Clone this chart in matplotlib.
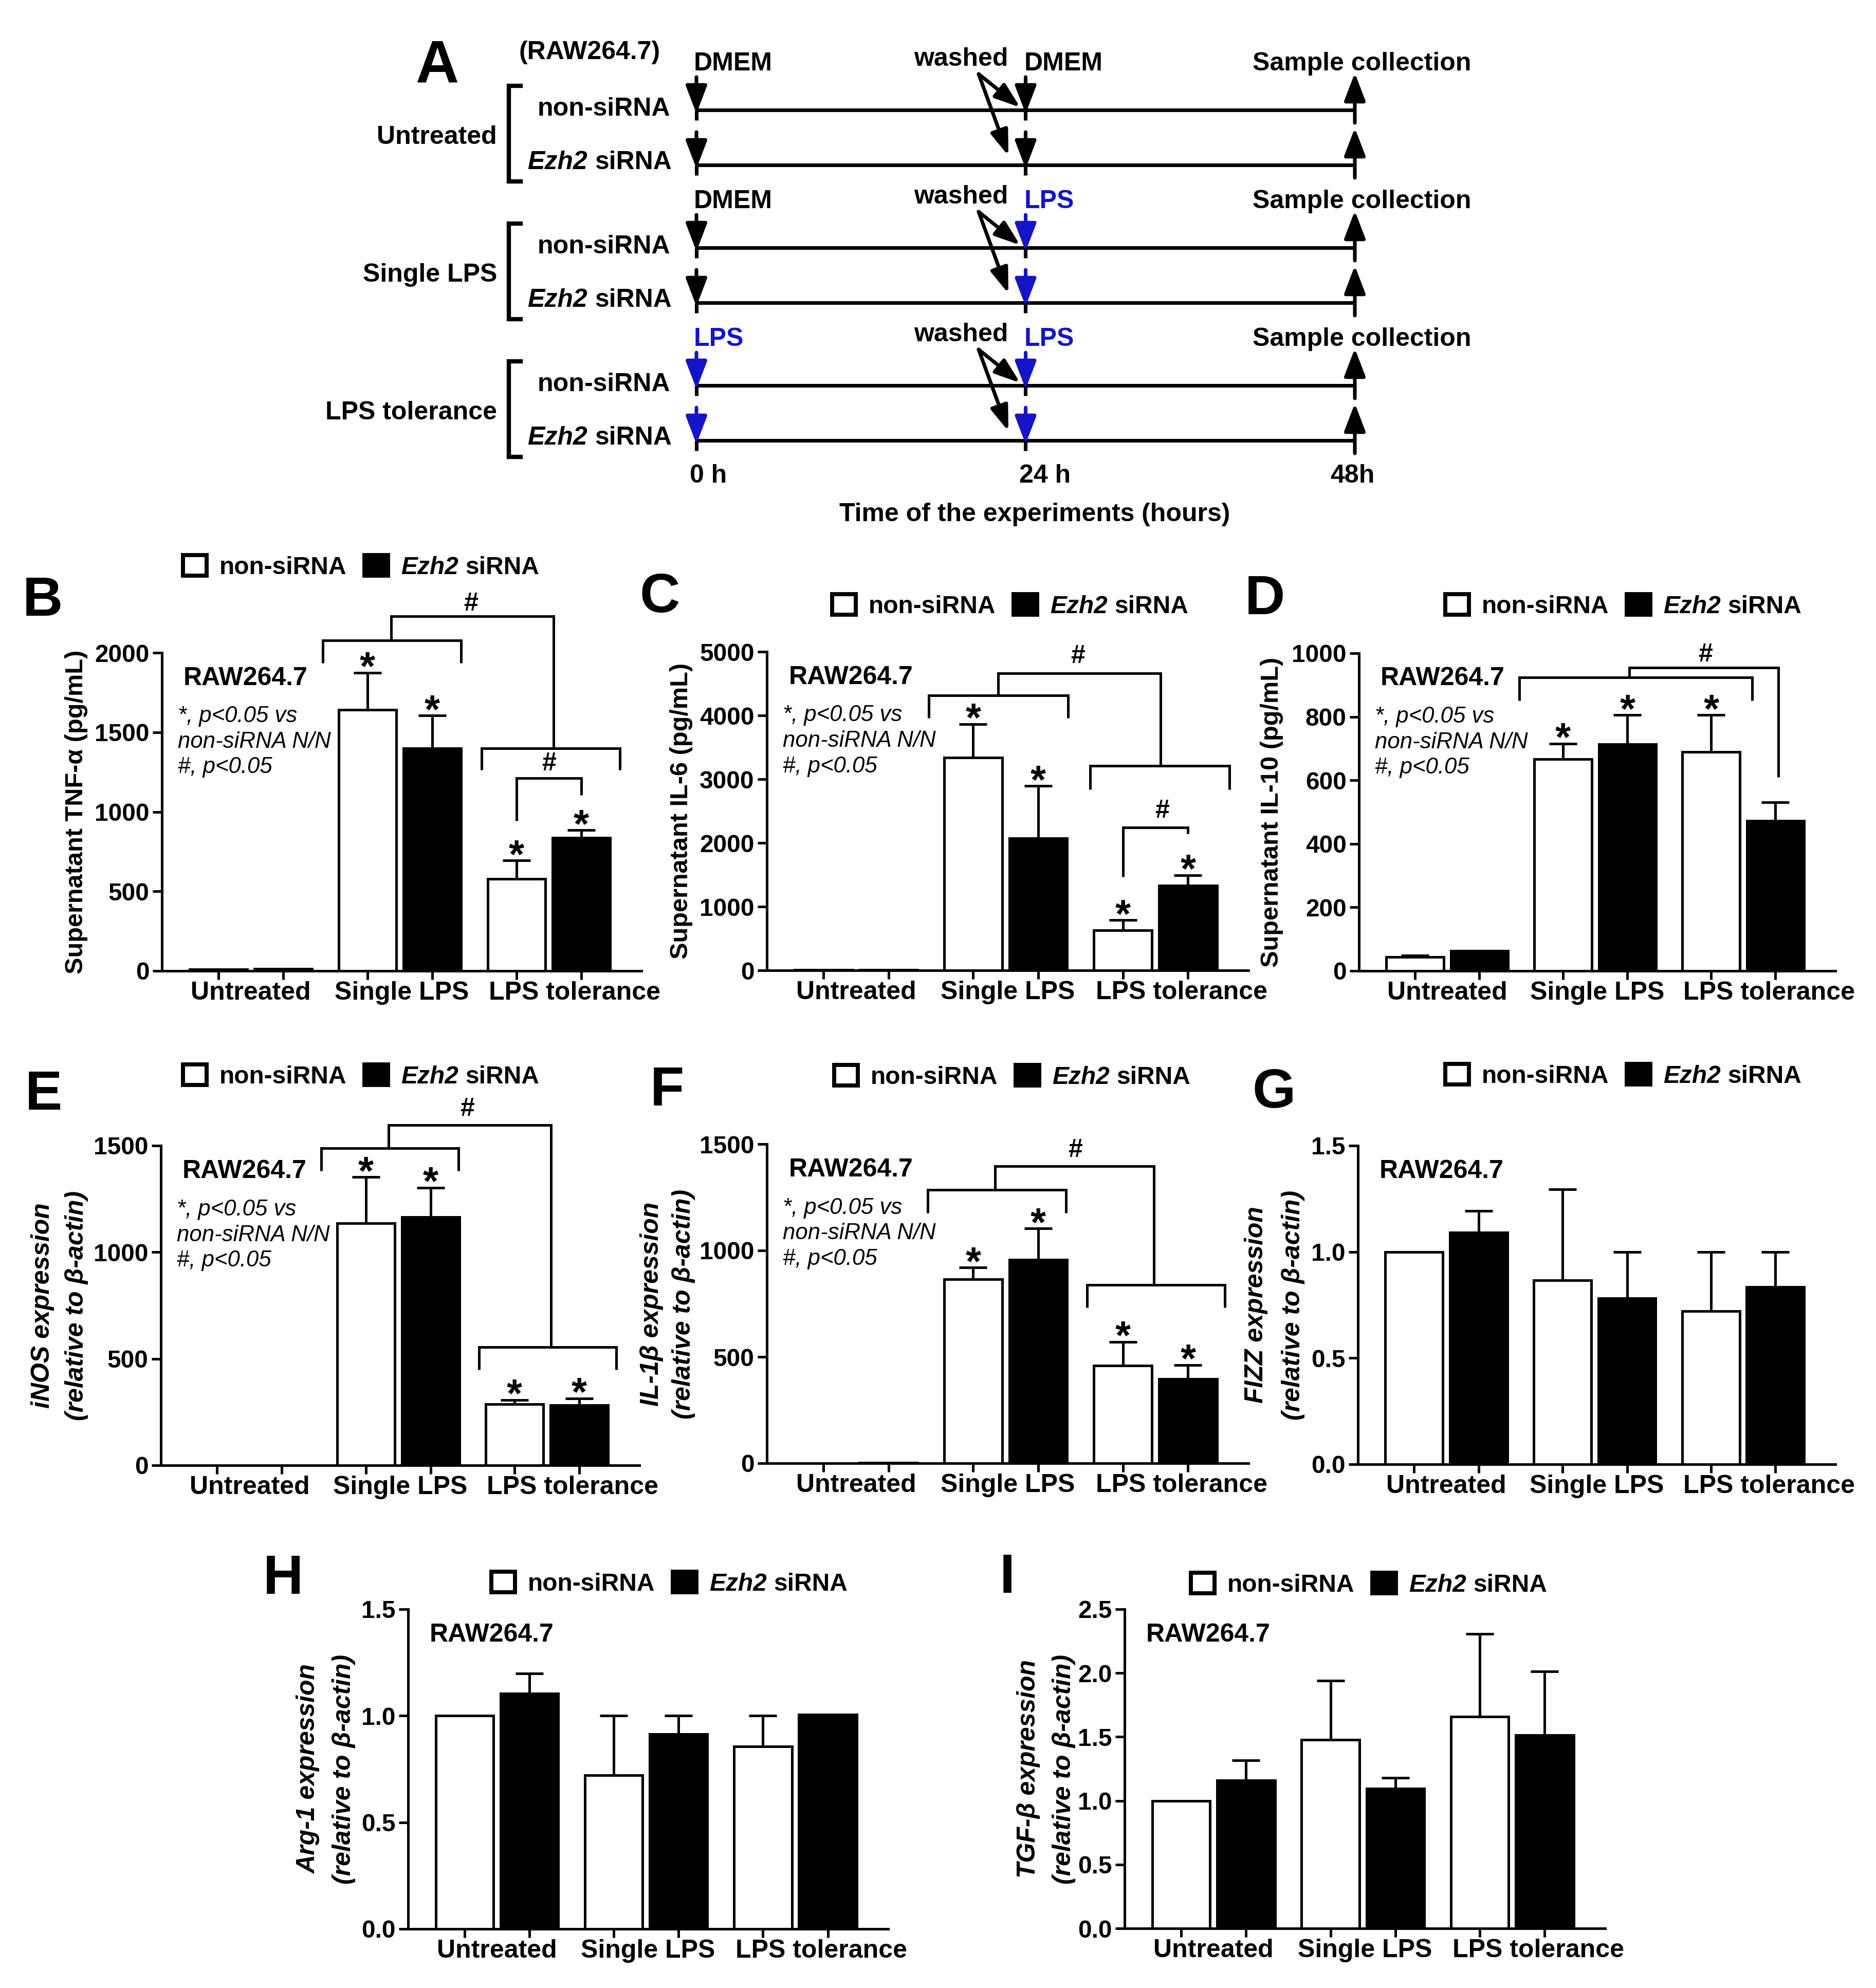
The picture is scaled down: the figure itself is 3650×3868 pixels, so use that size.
import matplotlib
matplotlib.use('Agg')
import matplotlib.pyplot as plt
from matplotlib.patches import Rectangle
import numpy as np

W, H = 3650, 3868
plt.rcParams['font.family'] = ['Liberation Sans', 'DejaVu Sans']
plt.rcParams['font.weight'] = 'bold'
plt.rcParams['axes.linewidth'] = 1.2

BLUE = '#1414c8'

groups = ['Untreated', 'Single LPS', 'LPS tolerance']
series = ['non-siRNA', 'Ezh2 siRNA']

# panel B - TNF-a
B_non = [10, 1640, 578]
B_non_err = [0, 235, 117]
B_ezh = [12, 1400, 838]
B_ezh_err = [0, 205, 47]
# panel C - IL-6
C_non = [8, 3336, 629]
C_non_err = [0, 528, 161]
C_ezh = [10, 2073, 1331]
C_ezh_err = [0, 819, 163]
# panel D - IL-10
D_non = [43, 666, 689]
D_non_err = [6, 50, 117]
D_ezh = [63, 713, 473]
D_ezh_err = [0, 93, 58]
# panel E - iNOS
E_non = [1, 1135, 288]
E_non_err = [0, 217, 19]
E_ezh = [1, 1165, 282]
E_ezh_err = [0, 138, 32]
# panel F - IL-1b
F_non = [1, 864, 459]
F_non_err = [0, 56, 112]
F_ezh = [3, 957, 397]
F_ezh_err = [0, 146, 65]
# panel G - FIZZ
G_non = [1.0, 0.865, 0.721]
G_non_err = [0, 0.43, 0.279]
G_ezh = [1.09, 0.782, 0.835]
G_ezh_err = [0.103, 0.218, 0.165]
# panel H - Arg-1
H_non = [1.0, 0.721, 0.857]
H_non_err = [0, 0.279, 0.143]
H_ezh = [1.104, 0.915, 1.006]
H_ezh_err = [0.094, 0.085, 0]
# panel I - TGF-b
I_non = [1.0, 1.479, 1.657]
I_non_err = [0, 0.463, 0.651]
I_ezh = [1.16, 1.093, 1.512]
I_ezh_err = [0.156, 0.085, 0.501]

note = ['*, p<0.05 vs', 'non-siRNA N/N', '#, p<0.05']

# panel A schematic
hours = [0, 24, 48]
first_add = ['DMEM', 'DMEM', 'LPS']
second_add = ['DMEM', 'LPS', 'LPS']

fig = plt.figure(figsize=(W / 300, H / 300), dpi=300)
ov = fig.add_axes([0, 0, 1, 1])
ov.set_xlim(0, W)
ov.set_ylim(H, 0)
ov.axis('off')
ov.set_zorder(10)
rend = fig.canvas.get_renderer()


def px(size):
    return size * 300 / 72


def T(x, y, s, size=12, **kw):
    # y is the visual centre of capital letters
    return ov.text(x, y + 0.36 * px(size), s, fontsize=size, va='baseline', **kw)


def mixed(x, y, parts, size=12, ha='left', color='k'):
    ws = []
    for s, st in parts:
        t = ov.text(0, 0, s, fontsize=size, style=st)
        ws.append(t.get_window_extent(rend).width)
        t.remove()
    gap = 0.28 * px(size)
    total = sum(ws) + gap * (len(parts) - 1)
    cx = x if ha == 'left' else x - total
    for (s, st), w in zip(parts, ws):
        T(cx, y, s, size, style=st, ha='left', color=color)
        cx += w + gap


def legend(x0, yc):
    ov.add_patch(Rectangle((x0 + 4, yc - 20), 46, 40, fc='white', ec='k', lw=1.9))
    T(x0 + 75, yc, series[0], 11.5, ha='left')
    ov.add_patch(Rectangle((x0 + 357, yc - 20), 46, 40, fc='k', ec='k', lw=1.9))
    mixed(x0 + 428, yc, [('Ezh2', 'italic'), ('siRNA', 'normal')], 11.5)


xs = np.array([0, 1, 2.3, 3.3, 4.6, 5.6])


def panel(box, non, non_err, ezh, ezh_err, ymax, ystep, stars=(), brackets=(),
          hashes=(), with_note=False):
    l, r, t, b = box
    ax = fig.add_axes([l / W, 1 - b / H, (r - l) / W, (b - t) / H])
    ax.set_facecolor('none')
    vals = np.array([non[0], ezh[0], non[1], ezh[1], non[2], ezh[2]], float)
    errs = np.array([non_err[0], ezh_err[0], non_err[1], ezh_err[1],
                     non_err[2], ezh_err[2]], float)
    ax.bar(xs, vals, width=0.89, color=['white', 'black'] * 3, edgecolor='k',
           linewidth=1.2, zorder=3)
    m = errs > 0
    eb = ax.errorbar(xs[m], vals[m], yerr=[np.zeros(m.sum()), errs[m]], fmt='none',
                     ecolor='k', elinewidth=1.2, capsize=6.5, capthick=1.2, zorder=2)
    for a in list(eb.lines[1]) + list(eb.lines[2]):
        a.set_clip_on(False)
    ax.set_xlim(-0.87, 6.53)
    ax.set_ylim(0, ymax)
    ax.set_yticks(np.arange(0, ymax + ystep / 2, ystep))
    ax.set_xticks(xs)
    ax.set_xticklabels([])
    ax.set_xticks([0.5, 2.83, 5.5], groups, minor=True)
    ax.tick_params(axis='y', length=4.3, width=1.2, pad=1.5, labelsize=11.5)
    ax.tick_params(axis='x', which='major', length=4, width=1.2)
    ax.tick_params(axis='x', which='minor', length=0, pad=4.8, labelsize=12)
    ax.spines[['top', 'right']].set_visible(False)
    ax.text(0.045, 0.92, 'RAW264.7', transform=ax.transAxes, fontsize=12, va='center')
    if with_note:
        for k, line in enumerate(note):
            ax.text(0.033, 0.80 - 0.08 * k, line, transform=ax.transAxes, fontsize=10.5,
                    style='italic', fontweight='normal', va='center')
    for i in stars:
        ax.annotate('*', (xs[i], vals[i] + errs[i]), xytext=(0, -3.5),
                    textcoords='offset points', ha='center', va='baseline',
                    fontsize=18.5, annotation_clip=False)
    for x1, x2, y, yl, yr in brackets:
        ax.plot([x1, x1, x2, x2], [yl, y, y, yr], color='k', lw=1.2, clip_on=False,
                solid_joinstyle='miter', solid_capstyle='butt')
    for x, y in hashes:
        ax.annotate('#', (x, y), xytext=(0, -4.2), textcoords='offset points',
                    ha='center', va='baseline', fontsize=12, annotation_clip=False)
    return ax


# ---- row 1
panel((315, 1248, 1270, 1889), B_non, B_non_err, B_ezh, B_ezh_err, 2000, 500,
      stars=[2, 3, 4, 5],
      brackets=[(1.61, 3.75, 2078, 1935, 1935), (2.67, 5.17, 2230, 2078, 1400),
                (4.06, 6.2, 1400, 1263, 1263), (4.6, 5.6, 1212, 943, 1105)],
      hashes=[(3.9, 2323), (5.1, 1318)], with_note=True)
panel((1492, 2429, 1268, 1888), C_non, C_non_err, C_ezh, C_ezh_err, 5000, 1000,
      stars=[2, 3, 4, 5],
      brackets=[(1.62, 3.76, 4318, 3957, 3957), (2.68, 5.18, 4665, 4318, 3206),
                (4.10, 6.24, 3206, 2836, 2836), (4.6, 5.6, 2243, 1471, 2142)],
      hashes=[(3.91, 4966), (5.2, 2535)], with_note=True)
panel((2644, 3571, 1271, 1889), D_non, D_non_err, D_ezh, D_ezh_err, 1000, 200,
      stars=[2, 3, 4],
      brackets=[(1.62, 5.24, 924, 851, 851), (3.33, 5.64, 954, 924, 610)],
      hashes=[(4.51, 1003)], with_note=True)
# ---- row 2
panel((313, 1244, 2229, 2851), E_non, E_non_err, E_ezh, E_ezh_err, 1500, 500,
      stars=[2, 3, 4, 5],
      brackets=[(1.61, 3.73, 1487, 1381, 1381), (2.65, 5.16, 1596, 1487, 555),
                (4.05, 6.17, 555, 449, 449)],
      hashes=[(3.87, 1681)], with_note=True)
panel((1492, 2429, 2226, 2847), F_non, F_non_err, F_ezh, F_ezh_err, 1500, 500,
      stars=[2, 3, 4, 5],
      brackets=[(1.60, 3.73, 1285, 1176, 1176), (2.64, 5.08, 1395, 1285, 839),
                (4.05, 6.17, 839, 732, 732)],
      hashes=[(3.87, 1483)], with_note=True)
panel((2642, 3571, 2229, 2849), G_non, G_non_err, G_ezh, G_ezh_err, 1.5, 0.5)
# ---- row 3
panel((794, 1728, 3131, 3753), H_non, H_non_err, H_ezh, H_ezh_err, 1.5, 0.5)
panel((2188, 3123, 3131, 3752), I_non, I_non_err, I_ezh, I_ezh_err, 2.5, 0.5)

# y labels
ylab = dict(fontsize=11.7, rotation=90, ha='center', va='center')
ov.text(149, 1580, 'Supernatant TNF-α (pg/mL)', **ylab)
ov.text(1326, 1578, 'Supernatant IL-6 (pg/mL)', **ylab)
ov.text(2475, 1580, 'Supernatant IL-10 (pg/mL)', **ylab)
ylab2 = dict(fontsize=12, rotation=90, ha='center', va='center', style='italic')
for x1, x2, yc, name in [(83, 149, 2540, 'iNOS expression'),
                         (1268, 1330, 2537, 'IL-1β expression'),
                         (2444, 2516, 2539, 'FIZZ expression'),
                         (600, 669, 3442, 'Arg-1 expression'),
                         (2001, 2070, 3442, 'TGF-β expression')]:
    ov.text(x1, yc, name, **ylab2)
    ov.text(x2, yc, '(relative to β-actin)', **ylab2)

# legends
for x0, yc in [(352, 1100), (1615, 1176), (2808, 1176), (352, 2091), (1619, 2092),
               (2808, 2090), (952, 3078), (2313, 3080)]:
    legend(x0, yc)

# panel letters
for s, x, y in [('B', 83, 1159), ('C', 1284, 1152), ('D', 2461, 1156), ('E', 85, 2120),
                ('F', 1298, 2112), ('G', 2479, 2116), ('H', 551, 3062), ('I', 1960, 3060)]:
    T(x, y, s, 26, ha='center')
T(850, 119, 'A', 28, ha='center')


# ---- panel A schematic
def tx(h):
    return 1355 + h * (2636 - 1355) / 48


def arrow(x0, y0, x1, y1, c, hl=1.1, hw=0.42):
    ov.annotate('', xy=(x1, y1), xytext=(x0, y0),
                arrowprops=dict(arrowstyle='-|>,head_length=%g,head_width=%g' % (hl, hw),
                                lw=1.7, color=c, shrinkA=0, shrinkB=0, mutation_scale=10))


col = {'DMEM': 'k', 'LPS': BLUE}
T(1147, 97, '(RAW264.7)', 12, ha='center')
for g in range(3):
    r1 = 214 + 268 * g
    r2 = r1 + 107
    hy = r1 - 95
    for r in (r1, r2):
        ov.plot([tx(hours[0]), tx(hours[2])], [r, r], color='k', lw=1.7,
                solid_capstyle='butt')
        for h in hours[:2]:
            ov.plot([tx(h), tx(h)], [r, r + 20], color='k', lw=1.7, solid_capstyle='butt')
        arrow(tx(hours[0]), r - 64, tx(hours[0]), r + 7, col[first_add[g]])
        arrow(tx(hours[1]), r - 64, tx(hours[1]), r + 7, col[second_add[g]])
        arrow(tx(hours[2]), r + 25, tx(hours[2]), r - 72, 'k')
    # washed arrows
    arrow(1904, hy + 25, 1985, r1 - 5, 'k', 1.0, 0.35)
    arrow(1904, hy + 25, 1962, r2 - 18, 'k', 1.0, 0.35)
    # group bracket
    ov.plot([1013, 990, 990, 1013], [r1 - 47, r1 - 47, r2 + 32, r2 + 32], color='k',
            lw=2.0, solid_joinstyle='miter')
    T(967, (r1 + r2) / 2 - 6, groups[g], 12, ha='right')
    T(1304, r1 - 7, series[0], 12, ha='right')
    mixed(1307, r2 - 10, [('Ezh2', 'italic'), ('siRNA', 'normal')], 12, ha='right')
    T(tx(hours[0]) - 5, hy, first_add[g], 12, ha='left', color=col[first_add[g]])
    T(tx(hours[1]) - 3, hy, second_add[g], 12, ha='left', color=col[second_add[g]])
    T(1870, hy - 9, 'washed', 12, ha='center')
    T(2650, hy, 'Sample collection', 12, ha='center')

T(tx(hours[0]) - 13, 921, '0 h', 12, ha='left')
T(tx(hours[1]) - 12, 921, '24 h', 12, ha='left')
T(tx(hours[2]) - 5, 921, '48h', 12, ha='center')
T(2013, 996, 'Time of the experiments (hours)', 12, ha='center')

fig.savefig('out.png', dpi=300)
